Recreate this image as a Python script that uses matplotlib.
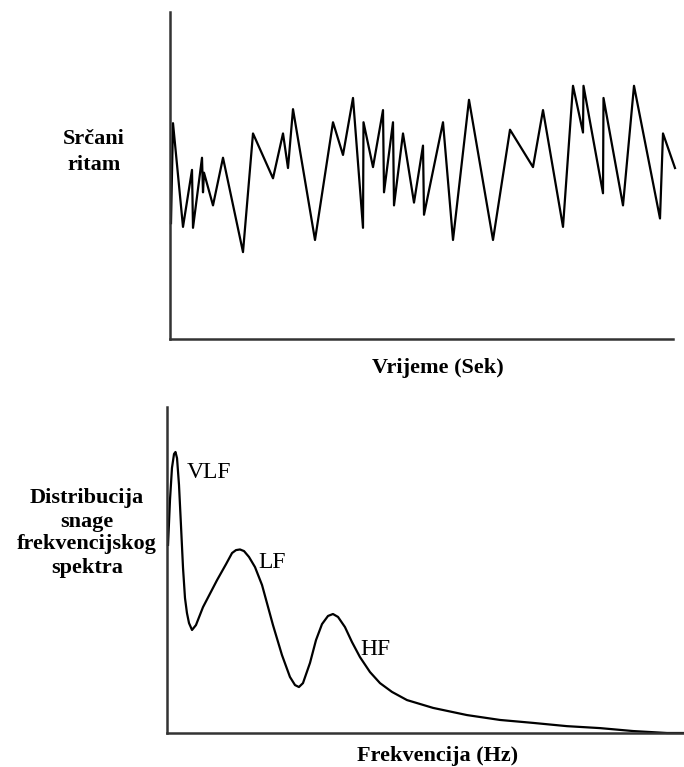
import matplotlib
matplotlib.use("Agg")
import matplotlib.pyplot as plt

plt.rcParams['font.family'] = ['Liberation Serif', 'DejaVu Serif']

# heart rate over time (seconds, bpm)
time_s = [0.2, 0.6, 2.6, 4.4, 4.6, 6.4, 6.6, 6.8, 8.6, 10.6, 14.6, 16.6, 20.6, 22.6,
          23.6, 24.6, 29.0, 32.6, 34.6, 36.6, 38.6, 38.7, 40.6, 42.6, 42.8, 44.6,
          44.8, 46.6, 48.8, 50.6, 50.8, 54.6, 56.6, 59.8, 64.6, 68.0, 72.6, 74.6,
          78.6, 80.6, 82.6, 82.7, 86.6, 86.7, 90.6, 92.8, 98.0, 98.6, 101.0]
heart_rate = [67.4, 78.1, 67.0, 73.1, 66.9, 74.4, 70.7, 72.8, 69.3, 74.4, 64.3, 77.0,
              72.2, 77.0, 73.3, 79.6, 65.6, 78.2, 74.7, 80.8, 66.9, 78.2, 73.4, 79.5,
              70.7, 78.2, 69.3, 77.0, 69.6, 75.7, 68.3, 78.2, 65.6, 80.6, 65.6, 77.4,
              73.4, 79.5, 67.0, 82.1, 77.1, 82.1, 70.6, 80.8, 69.3, 82.1, 67.9, 77.0,
              73.3]

# power spectrum (Hz, arbitrary units)
freq_hz = [0.001, 0.0029, 0.0048, 0.0068, 0.0082, 0.0097, 0.0116, 0.0135, 0.0155,
           0.0174, 0.0193, 0.0213, 0.0242, 0.028, 0.0348, 0.0484, 0.0571, 0.0629,
           0.0667, 0.0706, 0.0745, 0.0793, 0.0851, 0.0919, 0.1025, 0.1112, 0.1189,
           0.1238, 0.1276, 0.1315, 0.1383, 0.1441, 0.1499, 0.1557, 0.1605, 0.1654,
           0.1721, 0.1789, 0.1866, 0.1963, 0.2060, 0.2176, 0.2321, 0.2573, 0.2901,
           0.3221, 0.3540, 0.3868, 0.4188, 0.4507, 0.4836, 0.5]
power = [57.7, 71.5, 81.3, 85.6, 86.2, 84.3, 76.1, 63.8, 50.6,
         41.4, 36.8, 33.7, 31.6, 33.1, 38.6, 46.9, 51.8, 55.2,
         56.1, 56.3, 55.8, 54.0, 50.9, 45.4, 33.1, 23.9, 17.2,
         14.7, 14.1, 15.3, 21.5, 28.5, 33.4, 35.9, 36.5, 35.6,
         32.5, 27.9, 23.3, 18.7, 15.3, 12.6, 10.1, 7.7, 5.5,
         4.0, 3.1, 2.1, 1.5, 0.6, 0.0, 0.0]

bands = ['VLF', 'LF', 'HF']
band_pos = [(0.0193, 80.0), (0.088, 52.4), (0.1867, 25.5)]

W, H = 684, 767
fig = plt.figure(figsize=(W / 100, H / 100), dpi=100)


def style(ax):
    for s in ['top', 'right']:
        ax.spines[s].set_visible(False)
    for s in ['left', 'bottom']:
        ax.spines[s].set_linewidth(1.8)
        ax.spines[s].set_color('#333333')
    ax.set_xticks([])
    ax.set_yticks([])


# top: heart rate
ax1 = fig.add_axes([170 / W, 1 - 339 / H, (673 - 170) / W, (339 - 12) / H])
ax1.plot(time_s, heart_rate, color='black', lw=1.6, clip_on=False)
ax1.set_xlim(0, 100.6)
ax1.set_ylim(55, 90)
style(ax1)

# bottom: spectrum
ax2 = fig.add_axes([167 / W, 1 - 733 / H, (684 - 167) / W, (733 - 407) / H])
ax2.plot(freq_hz, power, color='black', lw=1.6, clip_on=False)
ax2.set_xlim(0, 0.5)
ax2.set_ylim(0, 100.0)
style(ax2)
for name, (fx, py) in zip(bands, band_pos):
    ax2.text(fx, py, name, fontsize=17, ha='left', va='center')

fig.text(438 / W, 1 - 368 / H, 'Vrijeme (Sek)', fontsize=16, fontweight='bold',
         ha='center', va='center')
fig.text(438 / W, 1 - 756 / H, 'Frekvencija (Hz)', fontsize=16, fontweight='bold',
         ha='center', va='center')
fig.text(94 / W, 1 - 152 / H, 'Srčani\nritam', fontsize=16, fontweight='bold',
         ha='center', va='center', linespacing=1.35)
fig.text(87 / W, 1 - 533 / H, 'Distribucija\nsnage\nfrekvencijskog\nspektra',
         fontsize=16, fontweight='bold', ha='center', va='center', linespacing=1.2)

fig.savefig('out.png', dpi=100)
